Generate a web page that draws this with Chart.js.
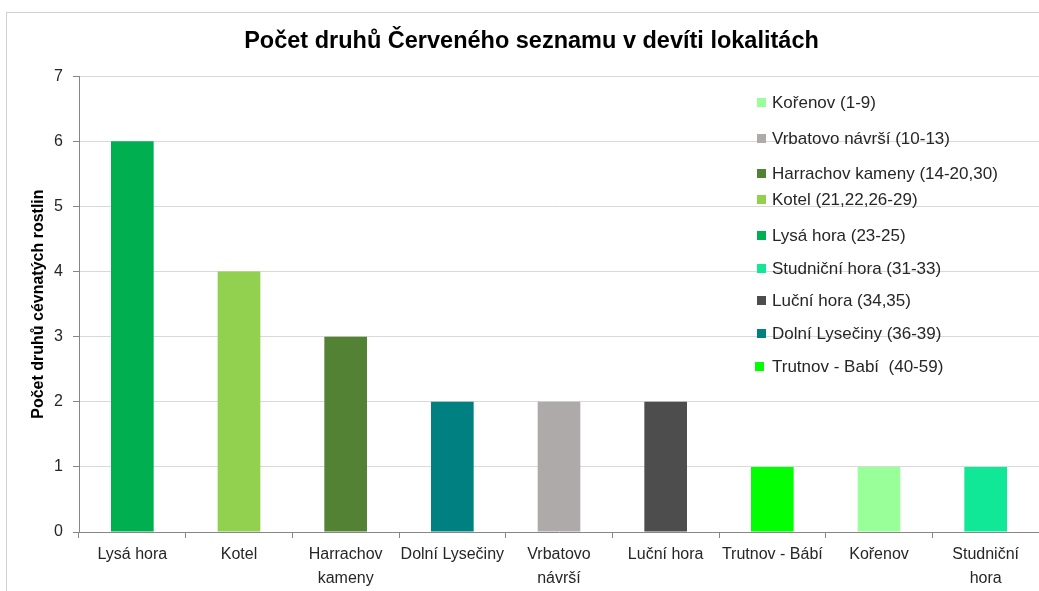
<!DOCTYPE html>
<html>
<head>
<meta charset="utf-8">
<script src="https://cdn.jsdelivr.net/npm/chart.js@4.4.1/dist/chart.umd.min.js"></script>
<style>
html,body{margin:0;padding:0;background:#fff;}
#wrap{width:1039px;height:591px;}
</style>
</head>
<body>
<div id="wrap"><canvas id="c" width="1039" height="591"></canvas></div>
<script>
const chartTitle = 'Počet druhů Červeného seznamu v devíti lokalitách';
const yAxisTitle = 'Počet druhů cévnatých rostlin';
const categories = ['Lysá hora', 'Kotel', ['Harrachov', 'kameny'], 'Dolní Lysečiny', ['Vrbatovo', 'návrší'], 'Luční hora', 'Trutnov - Bábí', 'Kořenov', ['Studniční', 'hora']];
const values = [6, 4, 3, 2, 2, 2, 1, 1, 1];
const barColors = ['#00B050', '#92D050', '#548235', '#008080', '#AEAAAA', '#4D4D4D', '#00FF00', '#99FF99', '#10E898'];
const legendLabels = ['Kořenov (1-9)', 'Vrbatovo návrší (10-13)', 'Harrachov kameny (14-20,30)', 'Kotel (21,22,26-29)', 'Lysá hora (23-25)', 'Studniční hora (31-33)', 'Luční hora (34,35)', 'Dolní Lysečiny (36-39)', 'Trutnov - Babí  (40-59)'];
const legendColors = ['#99FF99', '#AEAAAA', '#548235', '#92D050', '#00B050', '#10E898', '#4D4D4D', '#008080', '#00FF00'];
const yTicks = [0, 1, 2, 3, 4, 5, 6, 7];

const FONT = '"Liberation Sans", Arial, sans-serif';

const borderPlugin = {
  id: 'outerBorder',
  beforeDraw(chart) {
    const ctx = chart.ctx;
    ctx.save();
    ctx.strokeStyle = '#d0d0d0';
    ctx.lineWidth = 1;
    ctx.strokeRect(6.5, 12.5, 1200, 800);
    ctx.restore();
  }
};

const legendOffsets = [0, 36, 71, 97, 133, 166, 198, 231, 264];
const legendPlugin = {
  id: 'customLegend',
  afterDraw(chart) {
    const ctx = chart.ctx;
    ctx.save();
    ctx.font = '17px ' + FONT;
    ctx.textBaseline = 'middle';
    ctx.textAlign = 'left';
    legendLabels.forEach((lab, i) => {
      const y = 103 + legendOffsets[i];
      const sx = i === legendLabels.length - 1 ? 755 : 757;
      ctx.fillStyle = legendColors[i];
      ctx.fillRect(sx, y - 5, 9, 9);
      ctx.fillStyle = '#262626';
      ctx.fillText(lab, 772, y);
    });
    ctx.restore();
  }
};

new Chart(document.getElementById('c'), {
  type: 'bar',
  data: {
    labels: categories,
    datasets: [{
      data: values,
      backgroundColor: barColors,
      borderWidth: 0,
      barPercentage: 0.8,
      categoryPercentage: 0.5
    }]
  },
  options: {
    responsive: false,
    animation: false,
    layout: { padding: { left: 24, right: 0, top: 0, bottom: 0 } },
    plugins: {
      legend: { display: false },
      tooltip: { enabled: false },
      title: {
        display: true,
        text: chartTitle,
        color: '#000',
        font: { family: FONT, size: 23.5, weight: 'bold' },
        padding: { top: 27, bottom: 21 }
      }
    },
    scales: {
      x: {
        grid: { display: true, drawOnChartArea: false, offset: true, tickLength: 6, color: '#868686', tickColor: '#868686' },
        border: { color: '#868686' },
        ticks: { color: '#262626', font: { family: FONT, size: 16, lineHeight: 1.5 }, padding: 5, maxRotation: 0, autoSkip: false },
        afterFit(scale) { scale.height = 59; }
      },
      y: {
        min: 0, max: 7,
        afterBuildTicks(scale) { scale.ticks = yTicks.map(v => ({ value: v })); },
        grid: { color: '#d9d9d9', tickColor: '#868686', tickLength: 6 },
        border: { color: '#868686' },
        ticks: { color: '#262626', font: { family: FONT, size: 16 }, padding: 10 },
        title: { display: true, text: yAxisTitle, color: '#000', font: { family: FONT, size: 16, weight: 'bold' }, padding: { top: 5, bottom: 0 } },
        afterFit(scale) { scale.width = 55; }
      }
    }
  },
  plugins: [borderPlugin, legendPlugin]
});
</script>
</body>
</html>
